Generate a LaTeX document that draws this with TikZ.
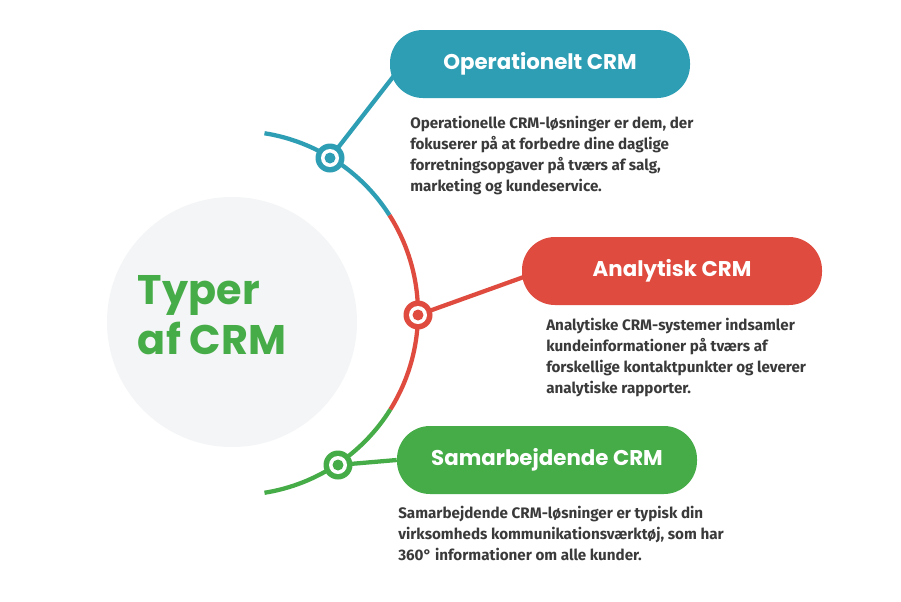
\documentclass[tikz,border=0pt]{standalone}
\usepackage{fontspec}
\usetikzlibrary{calc}
\setmainfont{Fira Sans}
\newfontfamily\titlefont{Poppins}
\definecolor{cblue}{HTML}{2E9EB5}
\definecolor{cred}{HTML}{DF4B3E}
\definecolor{cgreen}{HTML}{46AC48}
\definecolor{ctext}{HTML}{3A3A3A}
\definecolor{cbg}{HTML}{F4F5F6}
\tikzset{
  pill/.style={rounded corners=33*0.75pt, minimum width=300*0.75pt, minimum height=68*0.75pt, text=white, font=\titlefont\bfseries\fontsize{16}{18}\selectfont},
  desc/.style={anchor=north west, align=left, text=ctext, font=\bfseries\fontsize{11.4}{15.7}\selectfont, inner sep=0pt},
  arcline/.style={line width=3.2pt},
  ringo/.style={circle, fill=#1, minimum size=29*0.75pt, inner sep=0pt},
}
\begin{document}
\begin{tikzpicture}[x=0.75pt,y=-0.75pt]
\useasboundingbox[fill=white] (0,0) rectangle (901,601);
\node[circle, fill=cbg, minimum size=250*0.75pt, inner sep=0pt] (bg) at (232,322) {};
\node[text=cgreen, align=left, font=\titlefont\bfseries\fontsize{31}{38}\selectfont] (title) at (212,315) {Typer\\af CRM};
\coordinate (c) at (236,313);
\draw[arcline, cblue] ($(c)+(-81:182)$) arc[start angle=-81, end angle=-32.5, radius=182];
\draw[arcline, cred] ($(c)+(-32.5:182)$) arc[start angle=-32.5, end angle=32, radius=182];
\draw[arcline, cgreen] ($(c)+(32:182)$) arc[start angle=32, end angle=81, radius=182];
\node[pill, fill=cblue] (p1) at (540,64) {Operationelt CRM};
\node[pill, fill=cred] (p2) at (672,271) {Analytisk CRM};
\node[pill, fill=cgreen] (p3) at (547,460) {Samarbejdende CRM};
\coordinate (r1) at (330,158);
\coordinate (r2) at (418,315);
\coordinate (r3) at (338,465);
\draw[arcline, cblue] (r1) -- ($(p1.west)+(4,12)$);
\draw[arcline, cred] (r2) -- ($(p2.west)+(2,6)$);
\draw[arcline, cgreen] (r3) -- (p3.west);
\foreach \r/\c in {r1/cblue,r2/cred,r3/cgreen}{
  \node[ringo=\c] at (\r) {};
  \node[circle, fill=white, minimum size=18*0.75pt, inner sep=0pt] at (\r) {};
  \node[circle, fill=\c, minimum size=11*0.75pt, inner sep=0pt] at (\r) {};
}
\node[desc] (d1) at (410,116) {Operationelle CRM-løsninger er dem, der\\fokuserer på at forbedre dine daglige\\forretningsopgaver på tværs af salg,\\marketing og kundeservice.};
\node[desc] (d2) at (546,318) {Analytiske CRM-systemer indsamler\\kundeinformationer på tværs af\\forskellige kontaktpunkter og leverer\\analytiske rapporter.};
\node[desc] (d3) at (398,506) {Samarbejdende CRM-løsninger er typisk din\\virksomheds kommunikationsværktøj, som har\\360° informationer om alle kunder.};
\end{tikzpicture}
\end{document}
